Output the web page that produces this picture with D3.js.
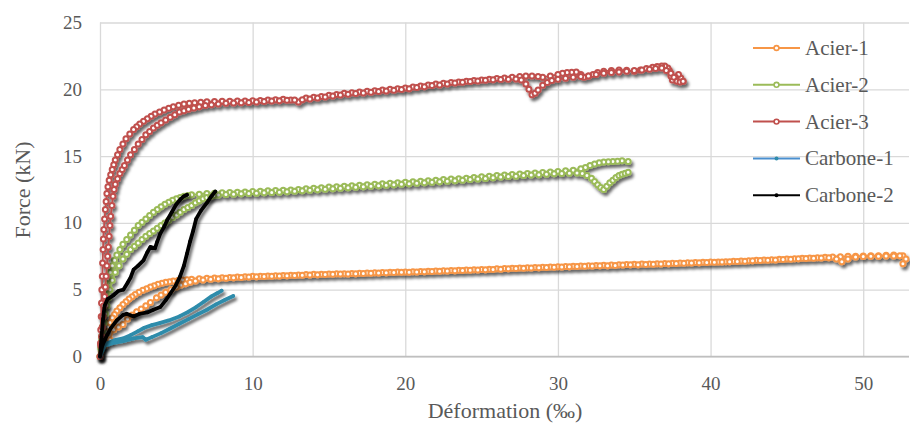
<!DOCTYPE html>
<html>
<head>
<meta charset="utf-8">
<script src="https://cdn.jsdelivr.net/npm/d3@7"></script>
<style>
  body { margin: 0; background: #fff; }
  svg { display: block; }
  text { font-family: "Liberation Serif", "Times New Roman", serif; fill: #595959; }
</style>
</head>
<body>
<svg id="chart" width="910" height="427"></svg>
<script>
// tick values
const xTicks = [0, 10, 20, 30, 40, 50];
const yTicks = [0, 5, 10, 15, 20, 25];

// series names + colours
const seriesNames = ["Acier-1", "Acier-2", "Acier-3", "Carbone-1", "Carbone-2"];
const seriesColors = ["#f79646", "#9bbb59", "#c0504d", "#2f8cab", "#000000"];

// each test has two branches [strain ‰, force kN], both starting at the origin
const acier1Up = [[0,0],[0.08,0.4],[0.15,0.8],[0.22,1.15],[0.3,1.5],[0.4,1.85],[0.5,2.2],[0.65,2.55],[0.8,2.9],[0.95,3.15],[1.1,3.4],[1.3,3.65],[1.5,3.9],[1.7,4.1],[1.9,4.3],[2.1,4.48],[2.3,4.65],[2.55,4.8],[2.8,4.95],[3.05,5.08],[3.3,5.2],[3.55,5.3],[3.8,5.4],[4.05,5.48],[4.3,5.55],[4.55,5.6],[4.8,5.65],[5.1,5.69],[5.4,5.72],[5.7,5.75],
  [6,5.78],[6.5,5.82],[7,5.85],[7.5,5.87],[8,5.9],[8.5,5.92],[9,5.95],[9.5,5.97],[10,6.0],[10.5,6.01],[11,6.03],[11.5,6.05],[12,6.07],[12.5,6.08],[13,6.1],[13.5,6.13],[14,6.15],[14.5,6.16],[15,6.18],[15.5,6.19],[16,6.2],[16.5,6.22],[17,6.24],[17.5,6.25],[18,6.27],[18.5,6.29],[19,6.3],[19.5,6.32],[20,6.33],[20.5,6.35],[21,6.37],[21.5,6.38],[22,6.4],[22.5,6.42],[23,6.44],[23.5,6.46],[24,6.48],[24.5,6.5],[25,6.52],[25.5,6.54],[26,6.56],[26.5,6.58],[27,6.6],[27.5,6.62],[28,6.64],[28.5,6.66],[29,6.68],[29.5,6.7],[30,6.72],[30.5,6.73],[31,6.75],[31.5,6.78],[32,6.8],[32.5,6.81],[33,6.83],[33.5,6.85],[34,6.87],[34.5,6.88],[35,6.9],[35.5,6.92],[36,6.93],[36.5,6.95],[37,6.97],[37.5,6.98],[38,7.0],[38.5,7.02],[39,7.03],[39.5,7.05],[40,7.07],[40.5,7.08],[41,7.1],[41.5,7.13],[42,7.15],[42.5,7.17],[43,7.2],[43.5,7.22],[44,7.25],[44.5,7.27],[45,7.3],[45.5,7.32],[46,7.35],[46.5,7.37],[47,7.4],[47.5,7.42],[48,7.45],[48.5,7.47],[49,7.5],[49.5,7.51],[50,7.52],[50.5,7.54],[51,7.55],[51.5,7.57],[52,7.6],[52.6,7.55]];
const acier1Down = [[0,0],[0.3,0.8],[0.65,1.25],[0.9,2.0],[1.2,2.2],[1.5,2.4],[1.8,2.8],[2.1,3.1],[2.4,3.35],[2.7,3.55],[3.0,3.8],[3.3,4.05],[3.7,4.4],[4.0,4.6],[4.3,4.8],[4.65,5.0],[5.0,5.2],[5.3,5.35],[5.6,5.45],[5.9,5.55],
  [6.25,5.65],[6.75,5.72],[7.25,5.78],[7.75,5.82],[8.25,5.86],[8.75,5.89],[9.25,5.92],[9.75,5.95],[10.25,5.97],[10.75,5.99],[11.25,6.01],[11.75,6.03],[12.25,6.04],[12.75,6.06],[13.25,6.08],[13.75,6.1],[14.25,6.12],[14.75,6.14],[15.25,6.15],[15.75,6.17],[16.25,6.18],[16.75,6.2],[17.25,6.21],[17.75,6.23],[18.25,6.25],[18.75,6.27],[19.25,6.28],[19.75,6.3],[20.25,6.31],[20.75,6.33],[21.25,6.35],[21.75,6.37],[22.25,6.38],[22.75,6.4],[23.25,6.42],[23.75,6.44],[24.25,6.46],[24.75,6.48],[25.25,6.5],[25.75,6.52],[26.25,6.54],[26.75,6.56],[27.25,6.58],[27.75,6.6],[28.25,6.62],[28.75,6.64],[29.25,6.66],[29.75,6.68],[30.25,6.69],[30.75,6.71],[31.25,6.73],[31.75,6.75],[32.25,6.77],[32.75,6.79],[33.25,6.8],[33.75,6.82],[34.25,6.84],[34.75,6.86],[35.25,6.87],[35.75,6.89],[36.25,6.91],[36.75,6.93],[37.25,6.94],[37.75,6.96],[38.25,6.98],[38.75,7.0],[39.25,7.01],[39.75,7.03],[40.25,7.05],[40.75,7.07],[41.25,7.09],[41.75,7.11],[42.25,7.13],[42.75,7.16],[43.25,7.18],[43.75,7.21],[44.25,7.23],[44.75,7.26],[45.25,7.28],[45.75,7.31],[46.25,7.33],[46.75,7.36],[47.25,7.38],[47.75,7.4],[48.25,7.3],[48.6,7.1],[49.0,7.3],[49.5,7.45],[50.0,7.48],[50.5,7.5],[51.0,7.51],[51.5,7.52],[52.0,7.53],[52.4,7.55],[52.8,7.3],[52.6,6.95]];

const acier2Up = [[0,0],[0.05,0.8],[0.1,1.5],[0.15,2.2],[0.2,3],[0.27,3.8],[0.35,4.5],[0.45,5.2],[0.55,5.8],[0.67,6.3],[0.8,6.8],[0.95,7.2],[1.1,7.6],[1.3,8.0],[1.5,8.4],[1.75,8.75],[2.0,9.1],[2.25,9.45],[2.5,9.8],[2.75,10.05],[3.0,10.3],[3.25,10.55],[3.5,10.8],[3.75,11.0],[4.0,11.2],[4.25,11.4],[4.5,11.55],[4.75,11.7],[5.0,11.8],[5.25,11.9],[5.5,12.0],[5.75,12.05],
  [6.0,12.1],[6.5,12.15],[7,12.2],[7.5,12.22],[8,12.25],[8.5,12.27],[9,12.3],[9.5,12.32],[10,12.35],[10.5,12.37],[11,12.4],[11.5,12.42],[12,12.45],[12.5,12.47],[13,12.5],[13.5,12.55],[14,12.6],[14.5,12.64],[15,12.68],[15.5,12.71],[16,12.75],[16.5,12.78],[17,12.82],[17.5,12.86],[18,12.9],[18.5,12.93],[19,12.97],[19.5,13.01],[20,13.05],[20.5,13.08],[21,13.12],[21.5,13.16],[22,13.2],[22.5,13.24],[23,13.28],[23.5,13.31],[24,13.35],[24.5,13.4],[25,13.45],[25.5,13.5],[26,13.55],[26.5,13.58],[27,13.62],[27.5,13.66],[28,13.7],[28.5,13.74],[29,13.78],[29.5,13.81],[30,13.85],[30.5,13.9],[31,13.95],[31.5,14.05],[31.8,14.15],[32.1,14.3],[32.4,14.4],[32.7,14.5],[33,14.55],[33.3,14.58],[33.6,14.6],[33.9,14.62],[34.2,14.65],[34.6,14.6]];
const acier2Down = [[0,0],[0.05,0.6],[0.1,1.2],[0.17,1.9],[0.25,2.5],[0.35,3.2],[0.45,3.8],[0.55,4.4],[0.65,5.0],[0.8,5.7],[1.0,6.3],[1.25,6.8],[1.5,7.3],[1.75,7.65],[2.0,8.0],[2.25,8.25],[2.5,8.5],[2.75,8.75],[3.0,9.0],[3.25,9.2],[3.5,9.4],[3.75,9.6],[4.0,9.8],[4.25,10.0],[4.5,10.2],[4.75,10.4],[5.0,10.6],[5.25,10.8],[5.5,11.0],[5.75,11.15],[6.0,11.3],[6.25,11.5],[6.5,11.65],[6.75,11.8],[7.0,11.9],[7.25,11.98],
  [7.5,12.05],[7.75,12.08],[8.25,12.12],[8.75,12.15],[9.25,12.18],[9.75,12.2],[10.25,12.22],[10.75,12.25],[11.25,12.27],[11.75,12.3],[12.25,12.33],[12.75,12.36],[13.25,12.4],[13.75,12.44],[14.25,12.48],[14.75,12.52],[15.25,12.56],[15.75,12.6],[16.25,12.63],[16.75,12.67],[17.25,12.7],[17.75,12.74],[18.25,12.78],[18.75,12.82],[19.25,12.85],[19.75,12.89],[20.25,12.93],[20.75,12.97],[21.25,13.0],[21.75,13.04],[22.25,13.08],[22.75,13.12],[23.25,13.16],[23.75,13.2],[24.25,13.24],[24.75,13.28],[25.25,13.33],[25.75,13.38],[26.25,13.43],[26.75,13.47],[27.25,13.5],[27.75,13.54],[28.25,13.58],[28.75,13.61],[29.25,13.65],[29.75,13.68],[30.25,13.7],[30.75,13.72],[31.25,13.74],[31.6,13.7],[31.9,13.55],[32.2,13.35],[32.4,13.1],[32.6,12.85],[32.8,12.65],[33.0,12.5],[33.2,12.75],[33.4,13.0],[33.6,13.2],[33.8,13.4],[34.0,13.55],[34.2,13.65],[34.4,13.72],[34.6,13.8]];

const acier3Up = [[0,0],[0.03,1],[0.05,2],[0.08,3],[0.1,4],[0.12,5],[0.15,6],[0.17,7],[0.2,8],[0.22,8.8],[0.25,9.5],[0.3,10.3],[0.35,11],[0.4,11.6],[0.45,12.2],[0.52,12.7],[0.6,13.2],[0.7,13.6],[0.8,14.0],[0.9,14.35],[1.0,14.7],[1.15,15.1],[1.3,15.5],[1.5,15.9],[1.7,16.3],[1.95,16.65],[2.2,17.0],[2.4,17.2],[2.6,17.4],[2.85,17.6],[3.1,17.8],[3.35,17.98],[3.6,18.15],[3.9,18.3],[4.2,18.45],[4.5,18.58],[4.8,18.7],[5.15,18.8],[5.5,18.9],[5.85,18.95],[6.2,19.0],[6.6,19.04],
  [7.0,19.07],[7.5,19.08],[8,19.1],[8.5,19.11],[9,19.12],[9.5,19.13],[10,19.15],[10.5,19.17],[11,19.2],[11.5,19.22],[12,19.25],[12.5,19.2],[13,19.05],[13.5,19.35],[14,19.4],[14.5,19.47],[15,19.55],[15.5,19.62],[16,19.7],[16.5,19.75],[17,19.8],[17.5,19.85],[18,19.9],[18.5,19.95],[19,20.0],[19.5,20.05],[20,20.1],[20.5,20.17],[21,20.25],[21.5,20.32],[22,20.4],[22.5,20.45],[23,20.5],[23.5,20.55],[24,20.6],[24.5,20.65],[25,20.7],[25.5,20.75],[26,20.8],[26.5,20.85],[27,20.9],[27.5,20.95],[27.9,21.0],[28.3,21.0],[28.7,20.95],[29,20.9],[29.5,21.0],[30,21.1],[30.3,21.2],[30.6,21.25],[30.9,21.28],[31.2,21.3],[31.5,21.1],[31.7,20.9],[32.0,21.0],[32.3,21.1],[32.6,21.25],[33,21.35],[33.5,21.4],[34,21.45],[34.5,21.42],[35,21.35],[35.4,21.45],[35.8,21.55],[36.2,21.65],[36.5,21.7],[36.8,21.75],[37,21.75],[37.2,21.6],[37.3,21.4],[37.4,21.0],[37.5,20.7],[37.7,20.9],[37.9,21.1],[38.05,20.85],[38.2,20.6]];
const acier3Down = [[0,0],[0.05,0.8],[0.1,1.5],[0.15,2.2],[0.2,3],[0.25,3.8],[0.3,4.5],[0.35,5.2],[0.4,6],[0.45,6.8],[0.5,7.5],[0.55,8.2],[0.6,9],[0.65,9.8],[0.7,10.5],[0.78,11.3],[0.85,12],[0.92,12.5],[1.0,12.9],[1.15,13.3],[1.3,13.7],[1.45,14.0],[1.6,14.3],[1.8,14.7],[2.0,15.1],[2.25,15.5],[2.5,15.9],[2.75,16.25],[3.0,16.6],[3.25,16.85],[3.5,17.1],[3.75,17.3],[4.0,17.5],[4.3,17.7],[4.6,17.9],[4.9,18.1],[5.2,18.3],[5.5,18.4],[5.8,18.5],[6.15,18.6],[6.5,18.7],[6.9,18.78],
  [7.3,18.85],[7.75,18.9],[8.25,18.95],[8.75,18.97],[9.25,19.0],[9.75,19.02],[10.25,19.05],[10.75,19.08],[11.25,19.12],[11.75,19.15],[12.25,19.18],[12.75,19.2],[13.25,19.22],[13.75,19.28],[14.25,19.35],[14.75,19.42],[15.25,19.5],[15.75,19.57],[16.25,19.63],[16.75,19.68],[17.25,19.73],[17.75,19.78],[18.25,19.83],[18.75,19.88],[19.25,19.93],[19.75,19.98],[20.25,20.05],[20.75,20.13],[21.25,20.2],[21.75,20.28],[22.25,20.33],[22.75,20.4],[23.25,20.47],[23.75,20.53],[24.25,20.58],[24.75,20.63],[25.25,20.68],[25.75,20.72],[26.25,20.74],[26.75,20.76],[27.25,20.78],[27.6,20.7],[27.9,20.4],[28.1,20.0],[28.3,19.6],[28.5,19.7],[28.7,19.95],[29,20.3],[29.3,20.5],[29.6,20.65],[30.0,20.75],[30.5,20.82],[31,20.9],[31.5,20.95],[32,21.0],[32.5,21.1],[33,21.2],[33.5,21.25],[34,21.3],[34.5,21.35],[35,21.4],[35.5,21.45],[36,21.5],[36.4,21.55],[36.8,21.6],[37.1,21.4],[37.4,21.2],[37.6,20.9],[37.8,20.6],[38.0,20.55],[38.2,20.6]];

const carbone1Up = [[0,0],[0.2,0.7],[0.5,1.0],[0.9,1.2],[1.5,1.35],[2.0,1.6],[2.5,1.9],[2.9,2.15],[3.4,2.35],[3.9,2.5],[4.5,2.7],[5.2,3.0],[5.8,3.35],[6.3,3.7],[6.8,4.1],[7.3,4.5],[7.7,4.75],[7.97,4.93]];
const carbone1Down = [[0,0],[0.3,0.8],[0.8,1.0],[1.5,1.15],[2.2,1.35],[2.8,1.45],[3.0,1.25],[3.4,1.45],[4.0,1.75],[4.6,2.1],[5.2,2.45],[5.8,2.8],[6.4,3.15],[7.0,3.5],[7.6,3.9],[8.2,4.25],[8.73,4.53]];

const carbone2Up = [[0,0],[0.1,1.5],[0.2,2.8],[0.3,3.8],[0.5,4.3],[0.9,4.6],[1.2,4.9],[1.53,5.0],[1.8,5.5],[2.0,5.9],[2.2,6.5],[2.5,6.8],[2.85,7.2],[3.1,7.8],[3.3,8.2],[3.6,8.1],[3.75,8.6],[3.95,9.2],[4.2,9.7],[4.4,10.2],[4.7,10.8],[5.0,11.4],[5.3,11.8],[5.5,12.0],[5.7,12.1]];
const carbone2Down = [[0,0],[0.15,0.8],[0.33,1.3],[0.7,2.1],[1.1,2.7],[1.5,3.1],[1.75,3.2],[2.2,3.0],[2.6,3.2],[3.1,3.3],[3.5,3.5],[3.95,3.7],[4.3,4.2],[4.6,4.7],[4.95,5.3],[5.25,6.0],[5.5,6.8],[5.7,7.7],[5.9,8.6],[6.1,9.4],[6.3,10.3],[6.6,10.9],[7.0,11.5],[7.3,12.0],[7.55,12.35]];

const branches = [
  [acier1Up, acier1Down],
  [acier2Up, acier2Down],
  [acier3Up, acier3Down],
  [carbone1Up, carbone1Down],
  [carbone2Up, carbone2Down]
];

// one continuous path: first branch walked back to the origin, then the second one
const series = seriesNames.map((name, i) => ({
  name: name,
  color: seriesColors[i],
  steel: i < 3,
  points: branches[i][0].slice().reverse().concat(branches[i][1].slice(1))
}));

const svg = d3.select("#chart");

const x = d3.scaleLinear().domain([0, 53]).range([100, 909]);
const y = d3.scaleLinear().domain([0, 25]).range([356.5, 22.5]);

svg.append("defs").append("filter")
    .attr("id", "shadow")
    .attr("x", "-10%").attr("y", "-10%")
    .attr("width", "120%").attr("height", "130%")
  .append("feDropShadow")
    .attr("dx", 2).attr("dy", 3)
    .attr("stdDeviation", 1.5)
    .attr("flood-color", "#000")
    .attr("flood-opacity", 0.6);

// grid
let xGrid = d3.axisBottom(x).tickValues(xTicks).tickSize(-(y(0) - y(25))).tickFormat("");
let yGrid = d3.axisLeft(y).tickValues(yTicks).tickSize(-(x(53) - x(0))).tickFormat("");

svg.append("g")
    .attr("transform", `translate(0,${y(0)})`)
    .call(xGrid)
    .call(g => g.select(".domain").remove())
    .call(g => g.selectAll("line").attr("stroke", "#d9d9d9").attr("stroke-width", 1.3));

svg.append("g")
    .attr("transform", `translate(${x(0)},0)`)
    .call(yGrid)
    .call(g => g.select(".domain").remove())
    .call(g => g.selectAll("line").attr("stroke", "#d9d9d9").attr("stroke-width", 1.3));

svg.append("line")
    .attr("x1", x(0)).attr("x2", x(53))
    .attr("y1", y(0)).attr("y2", y(0))
    .attr("stroke", "#bfbfbf").attr("stroke-width", 1.5);

// tick labels
let xAxis = d3.axisBottom(x).tickValues(xTicks).tickSize(0).tickPadding(20);
let yAxis = d3.axisLeft(y).tickValues(yTicks).tickSize(0).tickPadding(18);

svg.append("g")
    .attr("transform", `translate(0,${y(0)})`)
    .call(xAxis)
    .call(g => g.select(".domain").remove())
    .call(g => g.selectAll("text").attr("font-size", 19).attr("font-family", null));

svg.append("g")
    .attr("transform", `translate(${x(0)},0)`)
    .call(yAxis)
    .call(g => g.select(".domain").remove())
    .call(g => g.selectAll("text").attr("font-size", 19).attr("font-family", null));

// axis titles
svg.append("text")
    .attr("x", 505).attr("y", 418)
    .attr("text-anchor", "middle")
    .attr("font-size", 22)
    .text("Déformation (‰)");

svg.append("text")
    .attr("transform", "translate(30,190) rotate(-90)")
    .attr("text-anchor", "middle")
    .attr("font-size", 22)
    .text("Force (kN)");

// curves
const line = d3.line().x(d => x(d[0])).y(d => y(d[1]));

series.forEach(s => {
  let g = svg.append("g").attr("filter", "url(#shadow)");
  g.append("path")
      .attr("d", line(s.points))
      .attr("fill", "none")
      .attr("stroke", s.color)
      .attr("stroke-width", s.steel ? 1.8 : 3.8)
      .attr("stroke-linejoin", "round")
      .attr("stroke-linecap", "round");
  g.selectAll("circle")
    .data(s.points)
    .enter()
    .append("circle")
      .attr("cx", d => x(d[0]))
      .attr("cy", d => y(d[1]))
      .attr("r", s.steel ? 2.5 : 1.8)
      .attr("fill", s.steel ? "#fff" : s.color)
      .attr("stroke", s.steel ? s.color : "none")
      .attr("stroke-width", 2);
});

// legend
let legend = svg.append("g")
    .selectAll("g")
    .data(series)
    .enter()
    .append("g")
    .attr("transform", (d, i) => `translate(753,${48 + i * 36.8})`);

legend.append("line")
    .attr("x1", 0).attr("x2", 47)
    .attr("stroke", d => d.name === "Carbone-1" ? "#4a8fcf" : d.color)
    .attr("stroke-width", 2);

legend.append("circle")
    .attr("cx", 23.5)
    .attr("r", d => d.steel ? 2.4 : 2)
    .attr("fill", d => d.steel ? "#fff" : d.color)
    .attr("stroke", d => d.steel ? d.color : "none")
    .attr("stroke-width", 1.6);

legend.append("text")
    .attr("x", 52).attr("y", 7)
    .attr("font-size", 21)
    .text(d => d.name);
</script>
</body>
</html>
